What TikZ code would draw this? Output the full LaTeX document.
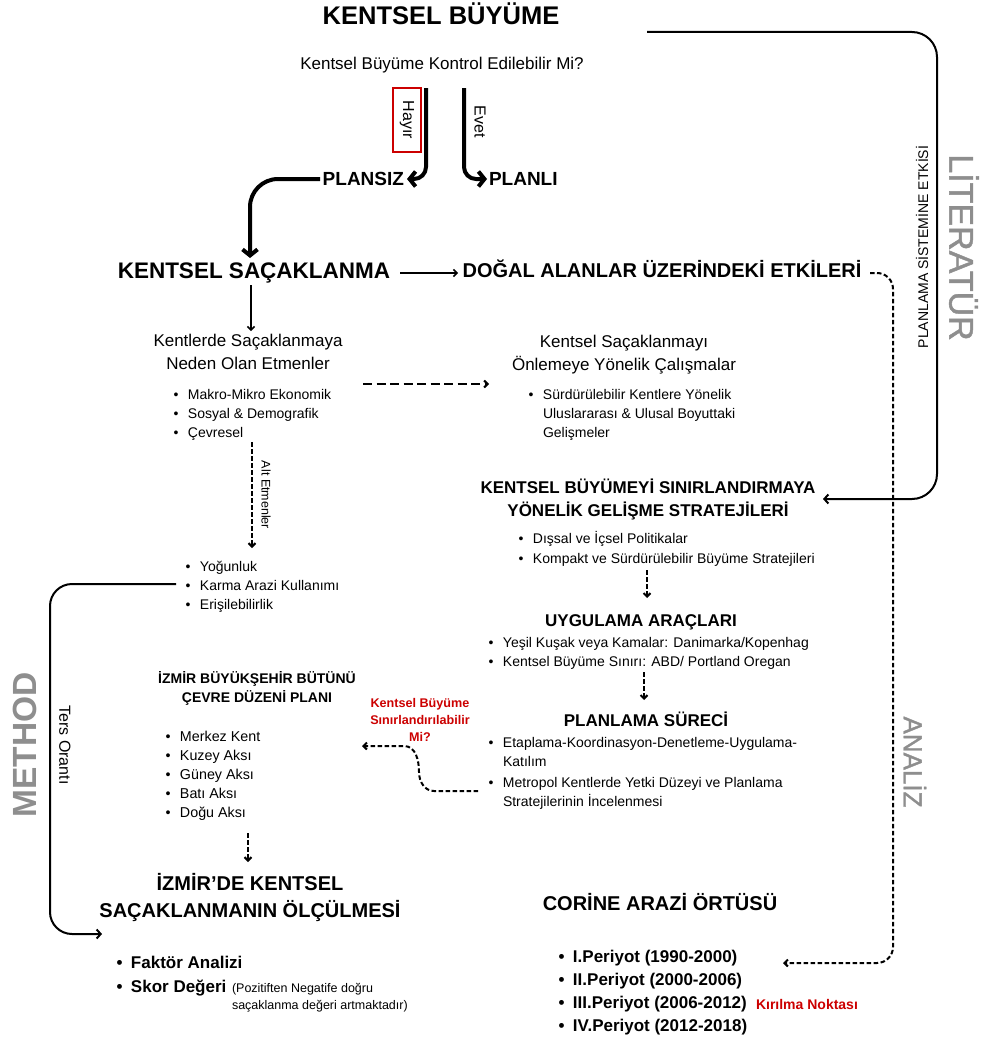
\documentclass[tikz,border=0pt]{standalone}
\usepackage{fontspec}
\setmainfont{Liberation Sans}
\newfontfamily\semib[FakeBold=1.3]{Liberation Sans}
\usetikzlibrary{arrows.meta}
\definecolor{gr}{HTML}{8E8E8E}
\definecolor{rd}{HTML}{CC0000}
\newcommand\fsz[2]{\fontsize{#1}{#2}\selectfont}
\newcommand\blt{\strut\makebox[14.5pt][l]{•}}
\newcommand\bhang{\strut\hspace*{14.5pt}}
\tikzset{
  tk/.style={line width=4pt, -{Straight Barb[length=6pt,width=15pt]}},
  ln/.style={line width=1.5pt, -{Straight Barb[length=3.5pt,width=7pt]}},
  ln2/.style={line width=2pt, -{Straight Barb[length=4pt,width=9pt]}},
  dsh/.style={line width=2pt, dash pattern=on 4.5pt off 2.5pt, -{Straight Barb[length=3.5pt,width=7pt]}},
  dshlong/.style={line width=2pt, dash pattern=on 9pt off 4.5pt, -{Straight Barb[length=3.5pt,width=7pt]}},
  blist/.style={anchor=north west, align=left},
  ctext/.style={anchor=north, align=center}
}
\begin{document}
\begin{tikzpicture}[x=1pt,y=-1pt, every node/.style={inner sep=0pt, outer sep=0pt}]
\fill[white] (0,0) rectangle (984,1041);
\useasboundingbox (0,0) rectangle (984,1041);

% top
\node[font=\bfseries\fsz{25.5}{30}, anchor=base] (title) at (441,25) {KENTSEL BÜYÜME};
\node[font=\fsz{17}{20}, anchor=base] (q) at (442,70) {Kentsel Büyüme Kontrol Edilebilir Mi?};
\node[draw=rd, line width=1.3pt, rotate=-90, minimum width=64pt, minimum height=28pt, font=\fsz{16}{18}] (hayir) at (407,120) {Hayır};
\node[rotate=-90, font=\fsz{16}{18}] (evet) at (480,122) {Evet};
\node[font=\bfseries\fsz{19}{22}, anchor=base east] (plansiz) at (404,185) {PLANSIZ};
\node[font=\bfseries\fsz{19}{22}, anchor=base west] (planli) at (489,185) {PLANLI};
\coordinate (hs) at (426,88);
\coordinate (es) at (464,88);
\coordinate (hend) at (407,179);
\coordinate (eend) at (487,179);
\draw[tk, rounded corners=12pt] (hs) |- (hend);
\draw[tk, rounded corners=12pt] (es) |- (eend);
\coordinate (pw) at (320,179);
\coordinate (sacn) at (250,258);
\draw[tk, rounded corners=28pt] (pw) -| (sacn);

% second row
\node[font=\bfseries\fsz{22.5}{26}, anchor=base] (sac) at (254,278) {KENTSEL SAÇAKLANMA};
\node[font=\bfseries\fsz{20}{24}, anchor=base] (dogal) at (662,277) {DOĞAL ALANLAR ÜZERİNDEKİ ETKİLERİ};
\coordinate (a1) at (400,273);
\coordinate (a2) at (458,273);
\draw[ln] (a1) -- (a2);
\coordinate (b1) at (251,285);
\coordinate (b2) at (251,331);
\draw[ln] (b1) -- (b2);

% side labels
\node[rotate=90, font=\fsz{14}{16}] (pse) at (922,247) {PLANLAMA SİSTEMİNE ETKİSİ};
\node[rotate=-90, font=\semib\fsz{34}{38}, text=gr] (lit) at (964,247.5) {LİTERATÜR};
\node[rotate=-90, font=\semib\fsz{26}{30}, text=gr] (analiz) at (915,762) {ANALİZ};
\node[rotate=90, font=\bfseries\fsz{33.5}{38}, text=gr] (method) at (25,745) {METHOD};
\node[rotate=-90, font=\fsz{16}{18}] (ters) at (65,745) {Ters Orantı};
\node[rotate=-90, font=\fsz{12.5}{14}] (alt) at (266,495) {Alt Etmenler};

% left column
\node[ctext, font=\fsz{17}{23}] (neden) at (248,329.9) {\strut Kentlerde Saçaklanmaya\\\strut Neden Olan Etmenler};
\node[blist, font=\fsz{14}{19}] (l1) at (173.5,385.7) {\blt Makro-Mikro Ekonomik\\\blt Sosyal \& Demografik\\\blt Çevresel};
\node[blist, font=\fsz{14}{19}] (l2) at (185.5,557.7) {\blt Yoğunluk\\\blt Karma Arazi Kullanımı\\\blt Erişilebilirlik};
\node[ctext, font=\bfseries\fsz{14}{19}] (izp) at (257,669.7) {\strut İZMİR BÜYÜKŞEHİR BÜTÜNÜ\\\strut ÇEVRE DÜZENİ PLANI};
\node[blist, font=\fsz{14.3}{19}] (l3) at (165.5,727.7) {\blt Merkez Kent\\\blt Kuzey Aksı\\\blt Güney Aksı\\\blt Batı Aksı\\\blt Doğu Aksı};
\node[ctext, font=\bfseries\fsz{20}{27}] (olc) at (250,871.1) {\strut İZMİR’DE KENTSEL\\\strut SAÇAKLANMANIN ÖLÇÜLMESİ};
\node[blist, font=\bfseries\fsz{17}{24}] (l4) at (116.5,951.2) {\blt Faktör Analizi\\\blt Skor Değeri};
\node[blist, font=\fsz{12.5}{17}] (skor) at (232,980.1) {\strut(Pozitiften Negatife doğru\\\strut saçaklanma değeri artmaktadır)};

% right column
\node[ctext, font=\fsz{17}{23}] (onle) at (624,330.9) {\strut Kentsel Saçaklanmayı\\\strut Önlemeye Yönelik Çalışmalar};
\node[blist, font=\fsz{14}{19}] (r1) at (528.5,385.7) {\blt Sürdürülebilir Kentlere Yönelik\\\bhang Uluslararası \& Ulusal Boyuttaki\\\bhang Gelişmeler};
\node[ctext, font=\bfseries\fsz{17}{23}] (strat) at (648,476.9) {\strut KENTSEL BÜYÜMEYİ SINIRLANDIRMAYA\\\strut YÖNELİK GELİŞME STRATEJİLERİ};
\node[blist, font=\fsz{14}{20}] (r2) at (518.5,529) {\blt Dışsal ve İçsel Politikalar\\\blt Kompakt ve Sürdürülebilir Büyüme Stratejileri};
\node[font=\bfseries\fsz{17}{20}, anchor=base] (uyg) at (641,626) {UYGULAMA ARAÇLARI};
\node[blist, font=\fsz{14}{19}] (r3) at (488.5,633.7) {\blt Yeşil Kuşak veya Kamalar: Danimarka/Kopenhag\\\blt Kentsel Büyüme Sınırı: ABD/ Portland Oregan};
\node[font=\bfseries\fsz{17}{20}, anchor=base] (psur) at (646,726) {PLANLAMA SÜRECİ};
\node[blist, font=\fsz{14}{19}] (r4) at (488.5,733.7) {\blt Etaplama-Koordinasyon-Denetleme-Uygulama-\\\bhang Katılım\\[2pt]\blt Metropol Kentlerde Yetki Düzeyi ve Planlama\\\bhang Stratejilerinin İncelenmesi};
\node[ctext, font=\bfseries\fsz{12.6}{17}, text=rd] (red) at (420,695.6) {\strut Kentsel Büyüme\\\strut Sınırlandırılabilir\\\strut Mi?};
\node[font=\bfseries\fsz{20}{24}, anchor=base] (cor) at (660,910) {CORİNE ARAZİ ÖRTÜSÜ};
\node[blist, font=\bfseries\fsz{17}{23}] (r5) at (558.5,945.9) {\blt I.Periyot (1990-2000)\\\blt II.Periyot (2000-2006)\\\blt III.Periyot (2006-2012)\\\blt IV.Periyot (2012-2018)};
\node[font=\bfseries\fsz{14}{16}, text=rd, anchor=base west] (kir) at (756,1009) {Kırılma Noktası};

% connectors
\coordinate (t1) at (647,32);
\coordinate (t2) at (823,499);
\draw[ln2, rounded corners=25pt] (t1) -- (937,32) -- (937,499) -- (t2);
\coordinate (d1) at (870,273);
\coordinate (d2) at (783,963);
\draw[dsh, rounded corners=16pt] (d1) -- (893,273) -- (893,963) -- (d2);
\coordinate (e1) at (363,384);
\coordinate (e2) at (489,384);
\draw[dshlong] (e1) -- (e2);
\coordinate (f1) at (252,442);
\coordinate (f2) at (252,548);
\draw[dsh] (f1) -- (f2);
\coordinate (g1) at (176,584);
\coordinate (g2) at (102,934);
\draw[ln2, rounded corners=22pt] (g1) -- (50,584) -- (50,934) -- (g2);
\coordinate (h1) at (647,570);
\coordinate (h2) at (647,598);
\draw[dsh] (h1) -- (h2);
\coordinate (i1) at (644,672);
\coordinate (i2) at (644,700);
\draw[dsh] (i1) -- (i2);
\coordinate (j1) at (248,833);
\coordinate (j2) at (248,862);
\draw[dsh] (j1) -- (j2);
\coordinate (k1) at (478,791);
\coordinate (k2) at (362,746);
\draw[dsh] (k1) -- (434,791) to[out=180,in=-90] (419,772) to[out=90,in=0] (404,746) -- (k2);
\end{tikzpicture}
\end{document}
